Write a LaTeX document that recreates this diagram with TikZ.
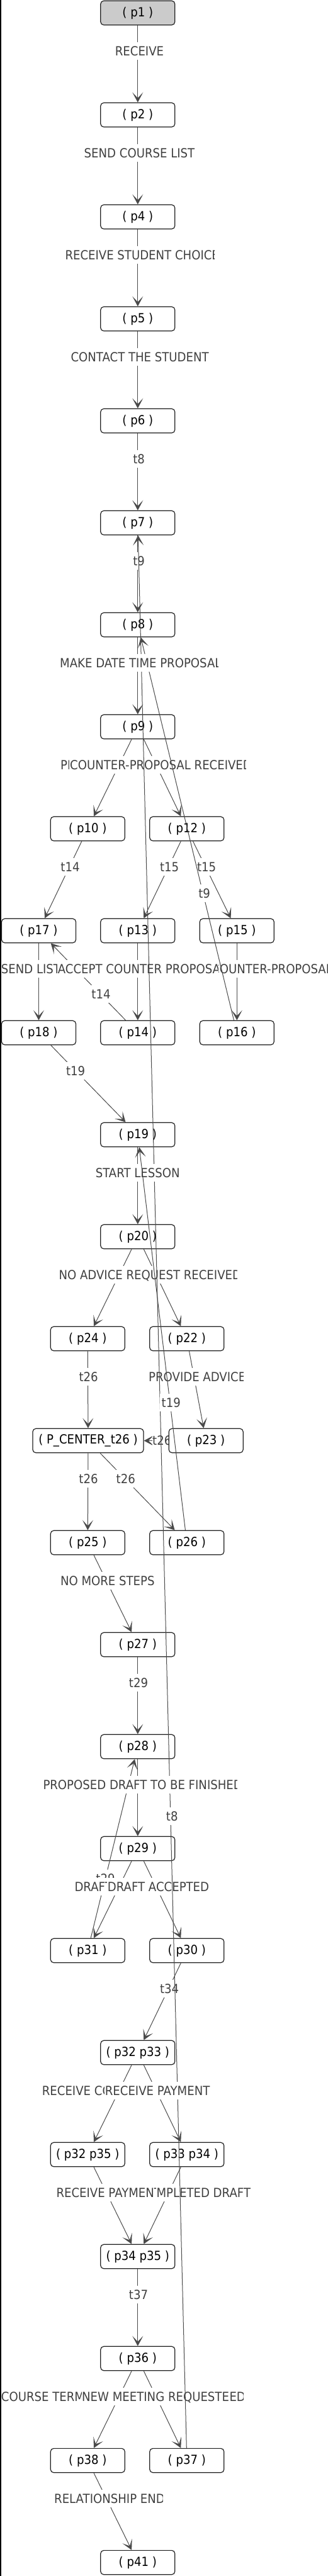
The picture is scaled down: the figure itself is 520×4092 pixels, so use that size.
\documentclass[tikz,border=0pt]{standalone}
\usepackage{fontspec}
\setmainfont{DejaVu Sans}
\newfontfamily\tf[FakeStretch=0.905]{DejaVu Sans}
\usetikzlibrary{arrows.meta}
\definecolor{edgecol}{HTML}{4A4A4A}
\definecolor{labcol}{HTML}{404040}
\definecolor{bordcol}{HTML}{222222}
\definecolor{startfill}{HTML}{CBCBCB}
\tikzset{
  pn/.style={draw=bordcol, line width=1.2pt, rounded corners=5pt, fill=white,
    minimum width=118pt, minimum height=38.4pt, inner sep=0pt,
    font=\tf\fontsize{20}{24}\selectfont, text=black},
  edge/.style={draw=edgecol, line width=1pt, -{Stealth[length=16pt,width=17pt,inset=9pt]}},
  lbl/.style={font=\tf\fontsize{20}{24}\selectfont, text=labcol, inner sep=0pt,
    text height=14.6pt, text depth=0pt},
  ulbl/.style={lbl, fill=white, inner xsep=3pt, minimum height=28pt},
}
% clipped label: name, box left, box right, y, text start, text
\newcommand{\clab}[6]{%
  \begin{scope}
    \clip (#2,#4-13.5) rectangle (#3,#4+14.5);
    \fill[white] (#2,#4-13.5) rectangle (#3,#4+14.5);
    \node[lbl,anchor=west] (#1) at (#5,#4) {#6};
  \end{scope}}
\begin{document}
\begin{tikzpicture}[x=1pt,y=-1pt]
\useasboundingbox (0,0) rectangle (520,4092);
% ---------- nodes ----------
\node[pn, fill=startfill] (p1) at (218.8,20.5) {( p1 )};
\node[pn] (p2) at (218.8,182.5) {( p2 )};
\node[pn] (p4) at (218.8,344.5) {( p4 )};
\node[pn] (p5) at (218.8,506.5) {( p5 )};
\node[pn] (p6) at (218.8,668.5) {( p6 )};
\node[pn] (p7) at (218.8,830.5) {( p7 )};
\node[pn] (p8) at (218.8,992.5) {( p8 )};
\node[pn] (p9) at (218.8,1154.5) {( p9 )};
\node[pn] (p10) at (139.3,1316.5) {( p10 )};
\node[pn] (p12) at (296.8,1316.5) {( p12 )};
\node[pn] (p17) at (61.5,1478.5) {( p17 )};
\node[pn] (p13) at (218.8,1478.5) {( p13 )};
\node[pn] (p15) at (376.3,1478.5) {( p15 )};
\node[pn] (p18) at (61.5,1640.5) {( p18 )};
\node[pn] (p14) at (218.8,1640.5) {( p14 )};
\node[pn] (p16) at (376.3,1640.5) {( p16 )};
\node[pn] (p19) at (218.8,1802.5) {( p19 )};
\node[pn] (p20) at (218.8,1964.5) {( p20 )};
\node[pn] (p24) at (139.3,2126.5) {( p24 )};
\node[pn] (p22) at (296.8,2126.5) {( p22 )};
\node[pn, minimum width=176pt] (pc) at (140,2288.5) {( P\_CENTER\_t26 )};
\node[pn] (p23) at (327.2,2288.5) {( p23 )};
\node[pn] (p25) at (139.3,2450.5) {( p25 )};
\node[pn] (p26) at (296.8,2450.5) {( p26 )};
\node[pn] (p27) at (218.8,2612.5) {( p27 )};
\node[pn] (p28) at (218.8,2774.5) {( p28 )};
\node[pn] (p29) at (218.8,2936.5) {( p29 )};
\node[pn] (p31) at (139.3,3098.5) {( p31 )};
\node[pn] (p30) at (296.8,3098.5) {( p30 )};
\node[pn] (p3233) at (218.8,3260.5) {( p32 p33 )};
\node[pn] (p3235) at (139.3,3422.5) {( p32 p35 )};
\node[pn] (p3334) at (296.8,3422.5) {( p33 p34 )};
\node[pn] (p3435) at (218.8,3584.5) {( p34 p35 )};
\node[pn] (p36) at (218.8,3746.5) {( p36 )};
\node[pn] (p38) at (139.3,3908.5) {( p38 )};
\node[pn] (p37) at (296.8,3908.5) {( p37 )};
\node[pn] (p41) at (218.8,4070.5) {( p41 )};
% ---------- short edges ----------
\draw[edge] (p1) -- (p2);
\draw[edge] (p2) -- (p4);
\draw[edge] (p4) -- (p5);
\draw[edge] (p5) -- (p6);
\draw[edge] (p6) -- (p7);
\draw[edge] (p7) -- (p8);
\draw[edge] (p8) -- (p9);
\draw[edge] (p9) -- (p10);
\draw[edge] (p9) -- (p12);
\draw[edge] (p10) -- (p17);
\draw[edge] (p12) -- (p13);
\draw[edge] (p12) -- (p15);
\draw[edge] (p17) -- (p18);
\draw[edge] (p13) -- (p14);
\draw[edge] (p15) -- (p16);
\draw[edge] (p14) -- (p17);
\draw[edge] (p18) -- (p19);
\draw[edge] (p19) -- (p20);
\draw[edge] (p20) -- (p24);
\draw[edge] (p20) -- (p22);
\draw[edge] (p24) -- (pc);
\draw[edge] (p22) -- (p23);
\draw[edge] (p23) -- (pc);
\draw[edge] (pc) -- (p25);
\draw[edge] (pc) -- (p26);
\draw[edge] (p25) -- (p27);
\draw[edge] (p27) -- (p28);
\draw[edge] (p28) -- (p29);
\draw[edge] (p29) -- (p31);
\draw[edge] (p29) -- (p30);
\draw[edge] (p31) -- (p28);
\draw[edge] (p30) -- (p3233);
\draw[edge] (p3233) -- (p3235);
\draw[edge] (p3233) -- (p3334);
\draw[edge] (p3235) -- (p3435);
\draw[edge] (p3334) -- (p3435);
\draw[edge] (p3435) -- (p36);
\draw[edge] (p36) -- (p38);
\draw[edge] (p36) -- (p37);
\draw[edge] (p38) -- (p41);
% ---------- labels ----------
\node[ulbl] (l1) at (221.5,80.8) {RECEIVE};
\node[ulbl] (l2) at (221.5,242.8) {SEND COURSE LIST};
\clab{l3}{102.3}{340}{404.8}{103.3}{RECEIVE STUDENT CHOICE}
\clab{l4}{111.3}{331}{566.8}{112.3}{CONTACT THE STUDENT}
\node[ulbl] (l5) at (220.7,728.8) {t8};
\node[ulbl] (l6) at (220.7,890.8) {t9};
\clab{l8a}{95}{110}{1214.8}{96}{PR}
\clab{l8b}{110}{390.7}{1214.8}{111}{COUNTER-PROPOSAL RECEIVED}
\node[ulbl] (l9) at (111.5,1376.8) {t14};
\node[ulbl] (l10) at (269.2,1376.8) {t15};
\node[ulbl] (l11) at (328.2,1376.8) {t15};
\clab{l13a}{0.7}{122.3}{1538.8}{1.7}{SEND LIST}
\clab{l13c}{335}{520}{1538.8}{336}{COUNTER-PROPOSAL}
\clab{l13b}{90.7}{346.9}{1538.8}{91.7}{ACCEPT COUNTER PROPOSAL}
\node[ulbl] (l14) at (160.5,1579.3) {t14};
\node[ulbl] (l15) at (120.2,1700.8) {t19};
\clab{l17}{92.3}{376}{2024.8}{93.3}{NO ADVICE REQUEST RECEIVED}
\node[ulbl] (l18) at (140.7,2186.8) {t26};
\clab{l19}{235}{386}{2186.8}{236}{PROVIDE ADVICE}
\clab{l20}{241.5}{267}{2288.5}{242}{t26}
\node[ulbl] (l21) at (140.5,2348.8) {t26};
\node[ulbl] (l22) at (199.8,2348.8) {t26};
\node[ulbl] (l24) at (170.8,2510.8) {NO MORE STEPS};
\node[ulbl] (l25) at (220,2672.8) {t29};
\node[ulbl] (l28) at (167.5,2983.9) {t29};
\clab{l29a}{117.3}{169.7}{2996.8}{118.3}{DRAFT}
\clab{l29b}{169.7}{335}{2996.8}{170.7}{DRAFT ACCEPTED}
\node[ulbl] (l30) at (269.2,3158.8) {t34};
\clab{l32b}{247}{397.3}{3482.8}{248.3}{MPLETED DRAFT}
\clab{l32a}{88.3}{247}{3482.8}{89.3}{RECEIVE PAYMENT}
\node[ulbl] (l33) at (220,3644.8) {t37};
\clab{l34a}{0.7}{386}{3806.8}{1.7}{\makebox[388pt][l]{COURSE TERM\hfill ED}}
\clab{l34b}{129.5}{363.3}{3806.8}{130}{NEW MEETING REQUESTED}
\clab{l35}{85}{258.3}{3968.8}{86}{RELATIONSHIP END}
% ---------- long edges ----------
\draw[edge] (p37) -- (p7);
\node[ulbl] (l27) at (273.3,2885) {t8};
\draw[edge] (p16) -- (p8);
\node[ulbl] (l12) at (324.7,1419.3) {t9};
\clab{l7}{94}{346.7}{1052.8}{95}{MAKE DATE TIME PROPOSAL}
\node[ulbl] (l16) at (218.7,1862.8) {START LESSON};
\draw[edge] (p26) -- (p19);
\node[ulbl] (l23) at (271.8,2228.3) {t19};
\clab{l26}{67.3}{376}{2834.8}{68.3}{PROPOSED DRAFT TO BE FINISHED}
\clab{l31a}{65.7}{165.7}{3320.8}{66.7}{RECEIVE CO}
\clab{l31b}{165.7}{340}{3320.8}{166.7}{RECEIVE PAYMENT}
% ---------- left frame bar ----------
\fill[black] (0,0) rectangle (2.2,4092);
\end{tikzpicture}
\end{document}
